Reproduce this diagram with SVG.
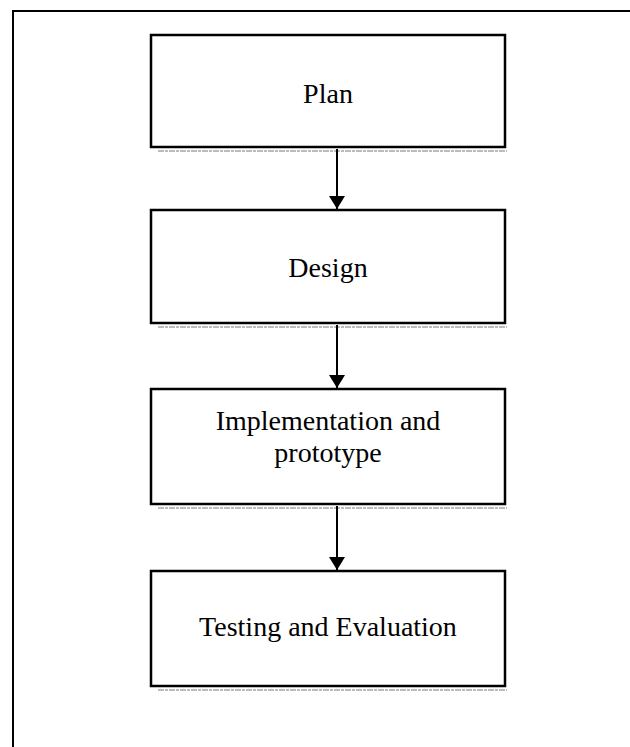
<svg xmlns="http://www.w3.org/2000/svg" width="630" height="747" viewBox="0 0 630 747">
  <style>
    .box { fill: #fff; stroke: #000; stroke-width: 2.5; }
    .edge { stroke: #7a7a7a; stroke-width: 1.2; stroke-dasharray: 6 1 3 1; fill: none; }
    .label { font-family: "Liberation Serif", "Times New Roman", serif; font-size: 28px; fill: #000; text-anchor: middle; }
    .frame { stroke: #000; stroke-width: 2; fill: none; }
    .link { stroke: #000; stroke-width: 2; fill: none; }
  </style>
  <defs>
    <!-- filled triangular head, drawn along +x so orient="auto" points it down the line -->
    <marker id="arrowhead" viewBox="0 0 13 16" refX="13" refY="8" markerWidth="13" markerHeight="16" markerUnits="userSpaceOnUse" orient="auto">
      <path d="M0,0 L13,8 L0,16 Z" fill="#000"/>
    </marker>
  </defs>
  <rect width="630" height="747" fill="#fff"/>

  <!-- outer frame (top and left edges) -->
  <path class="frame" d="M13,747 L13,11 L630,11"/>

  <g id="plan">
    <rect class="box" x="151" y="35" width="354" height="112"/>
    <line class="edge" x1="158" y1="151" x2="507" y2="151"/>
    <text class="label" x="328" y="103">Plan</text>
  </g>

  <g id="design">
    <rect class="box" x="151" y="210" width="354" height="113"/>
    <line class="edge" x1="158" y1="327" x2="507" y2="327"/>
    <text class="label" x="328" y="277">Design</text>
  </g>

  <g id="implementation">
    <rect class="box" x="151" y="389" width="354" height="115"/>
    <line class="edge" x1="158" y1="508" x2="507" y2="508"/>
    <text class="label" x="328" y="430">Implementation and</text>
    <text class="label" x="328" y="462">prototype</text>
  </g>

  <g id="testing">
    <rect class="box" x="151" y="571" width="354" height="115"/>
    <line class="edge" x1="158" y1="690" x2="507" y2="690"/>
    <text class="label" x="328" y="636">Testing and Evaluation</text>
  </g>

  <g id="connectors">
    <line class="link" x1="337" y1="149" x2="337" y2="209" marker-end="url(#arrowhead)"/>
    <line class="link" x1="337" y1="325" x2="337" y2="388" marker-end="url(#arrowhead)"/>
    <line class="link" x1="337" y1="506" x2="337" y2="570" marker-end="url(#arrowhead)"/>
  </g>
</svg>
